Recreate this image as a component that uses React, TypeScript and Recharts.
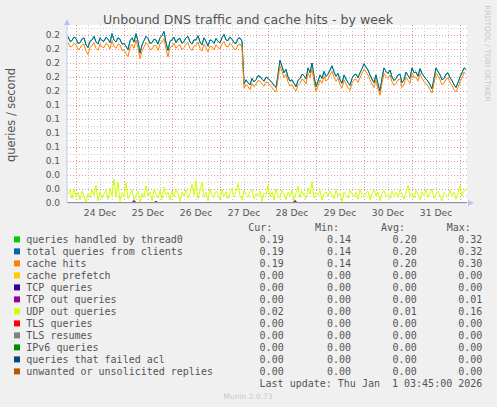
import React from 'react';
import { LineChart, Line, XAxis, YAxis, CartesianGrid, ReferenceLine } from 'recharts';

// ---- time grid (hours from 24 Dec 00:00), one sample per hour ----
const hours = [
  -4,-3,-2,-1,0,1,2,3,4,5,6,7,8,9,10,11,12,13,14,15,16,17,18,19,20,21,22,23,24,25,26,27,28,29,30,31,32,33,34,35,
  36,37,38,39,40,41,42,43,44,45,46,47,48,49,50,51,52,53,54,55,56,57,58,59,60,61,62,63,64,65,66,67,68,69,70,71,72,73,74,75,
  76,77,78,79,80,81,82,83,84,85,86,87,88,89,90,91,92,93,94,95,96,97,98,99,100,101,102,103,104,105,106,107,108,109,110,111,112,113,114,115,
  116,117,118,119,120,121,122,123,124,125,126,127,128,129,130,131,132,133,134,135,136,137,138,139,140,141,142,143,144,145,146,147,148,149,150,151,152,153,154,155,
  156,157,158,159,160,161,162,163,164,165,166,167,168,169,170,171,172,173,174,175,176,177,178,179,180,181,182,183,184,185,186,187,188,189,190,191,192,193,194,195
];

const totalQueries = [
  0.238,0.231,0.232,0.237,0.235,0.228,0.229,0.234,0.236,0.226,
  0.222,0.231,0.233,0.238,0.230,0.227,0.236,0.232,0.231,0.237,
  0.234,0.229,0.242,0.233,0.230,0.236,0.234,0.227,0.228,0.224,
  0.219,0.232,0.236,0.230,0.242,0.231,0.214,0.226,0.232,0.238,
  0.235,0.228,0.229,0.234,0.233,0.227,0.236,0.239,0.245,0.229,
  0.218,0.231,0.233,0.237,0.229,0.234,0.235,0.228,0.231,0.236,
  0.238,0.230,0.227,0.233,0.233,0.239,0.230,0.226,0.236,0.231,
  0.224,0.233,0.232,0.228,0.235,0.231,0.229,0.236,0.241,0.233,
  0.232,0.237,0.234,0.229,0.228,0.235,0.236,0.231,0.170,0.176,
  0.172,0.169,0.178,0.173,0.176,0.182,0.181,0.177,0.174,0.180,
  0.178,0.175,0.172,0.168,0.165,0.183,0.204,0.195,0.186,0.191,
  0.180,0.174,0.176,0.171,0.166,0.175,0.178,0.184,0.182,0.177,
  0.193,0.186,0.200,0.181,0.166,0.174,0.183,0.178,0.188,0.181,
  0.184,0.190,0.196,0.187,0.181,0.185,0.176,0.171,0.183,0.177,
  0.172,0.168,0.178,0.183,0.184,0.179,0.186,0.192,0.199,0.194,
  0.190,0.183,0.177,0.172,0.183,0.170,0.160,0.178,0.193,0.188,
  0.185,0.190,0.180,0.175,0.178,0.183,0.184,0.172,0.176,0.187,
  0.182,0.178,0.193,0.186,0.187,0.181,0.192,0.185,0.181,0.177,
  0.174,0.169,0.163,0.178,0.193,0.188,0.183,0.176,0.178,0.184,
  0.186,0.179,0.175,0.169,0.165,0.172,0.180,0.186,0.193,0.191
];
const thread0Queries = totalQueries;
const cacheHits = [
  0.229,0.223,0.224,0.228,0.226,0.219,0.221,0.226,0.227,0.217,
  0.212,0.222,0.225,0.229,0.221,0.218,0.227,0.223,0.222,0.228,
  0.226,0.220,0.232,0.224,0.221,0.227,0.226,0.218,0.219,0.214,
  0.209,0.223,0.227,0.221,0.233,0.222,0.206,0.217,0.223,0.229,
  0.226,0.219,0.220,0.225,0.225,0.218,0.227,0.230,0.235,0.220,
  0.209,0.222,0.224,0.228,0.221,0.225,0.226,0.219,0.222,0.227,
  0.229,0.221,0.218,0.224,0.225,0.230,0.221,0.217,0.227,0.222,
  0.216,0.224,0.223,0.219,0.226,0.222,0.220,0.227,0.231,0.224,
  0.223,0.228,0.225,0.220,0.219,0.226,0.227,0.222,0.164,0.169,
  0.166,0.162,0.171,0.166,0.170,0.175,0.174,0.170,0.167,0.173,
  0.172,0.168,0.165,0.161,0.159,0.176,0.196,0.188,0.179,0.184,
  0.173,0.167,0.169,0.164,0.160,0.168,0.171,0.177,0.175,0.170,
  0.186,0.179,0.192,0.174,0.159,0.167,0.176,0.171,0.181,0.174,
  0.177,0.183,0.188,0.180,0.174,0.178,0.169,0.164,0.176,0.170,
  0.165,0.161,0.171,0.176,0.177,0.172,0.179,0.185,0.191,0.187,
  0.183,0.176,0.170,0.165,0.176,0.163,0.154,0.171,0.185,0.181,
  0.178,0.183,0.173,0.168,0.171,0.176,0.177,0.165,0.169,0.180,
  0.175,0.171,0.186,0.179,0.180,0.174,0.185,0.178,0.174,0.170,
  0.167,0.162,0.157,0.171,0.186,0.181,0.176,0.169,0.171,0.177,
  0.179,0.172,0.168,0.162,0.159,0.165,0.173,0.179,0.187,0.184
];
const udpOutQueries = [
  0.012,0.018,0.006,0.020,0.009,0.015,0.004,0.017,0.010,0.000,
  0.014,0.008,0.019,0.011,0.025,0.003,0.016,0.007,0.013,0.018,
  0.005,0.021,0.010,0.034,0.008,0.030,0.002,0.015,0.009,0.029,
  0.006,0.013,0.019,0.004,0.011,0.017,0.000,0.014,0.008,0.025,
  0.010,0.016,0.003,0.019,0.012,0.007,0.018,0.005,0.023,0.011,
  0.015,0.004,0.017,0.009,0.020,0.013,0.002,0.016,0.010,0.019,
  0.007,0.014,0.027,0.011,0.032,0.006,0.018,0.030,0.009,0.015,
  0.003,0.020,0.012,0.008,0.017,0.013,0.005,0.019,0.010,0.016,
  0.006,0.014,0.021,0.009,0.016,0.028,0.011,0.004,0.018,0.012,
  0.008,0.015,0.019,0.006,0.013,0.010,0.017,0.002,0.014,0.011,
  0.025,0.009,0.016,0.004,0.020,0.012,0.007,0.018,0.013,0.005,
  0.016,0.010,0.019,0.003,0.014,0.024,0.008,0.017,0.011,0.006,
  0.021,0.013,0.030,0.007,0.015,0.011,0.018,0.004,0.013,0.016,
  0.009,0.017,0.012,0.006,0.019,0.010,0.014,0.002,0.016,0.011,
  0.007,0.018,0.013,0.009,0.015,0.005,0.019,0.012,0.008,0.014,
  0.017,0.004,0.013,0.019,0.010,0.016,0.003,0.014,0.018,0.009,
  0.012,0.006,0.017,0.011,0.015,0.008,0.019,0.013,0.005,0.016,
  0.025,0.010,0.014,0.007,0.018,0.012,0.004,0.016,0.011,0.019,
  0.008,0.014,0.020,0.006,0.013,0.017,0.010,0.003,0.015,0.012,
  0.009,0.018,0.011,0.016,0.005,0.014,0.025,0.010,0.017,0.019
];

const tcpOutHours = [-4.5, 28, 29, 30, 39, 40, 41, 108.5, 109.5, 110.5, 195.5];
const tcpOutValues = [0, 0, 0.003, 0, 0, 0.002, 0, 0, 0.003, 0, 0];
const zeroHours = [-4.5, 195.5];
const zeroValues = [0, 0];

// ---- axes / ticks ----
const dayLabelHours = [12, 36, 60, 84, 108, 132, 156, 180];
const dayLabels = ['24 Dec', '25 Dec', '26 Dec', '27 Dec', '28 Dec', '29 Dec', '30 Dec', '31 Dec'];
const majorXHours = [0, 24, 48, 72, 96, 120, 144, 168, 192];
const minorXHours = [6, 12, 18, 30, 36, 42, 54, 60, 66, 78, 84, 90, 102, 108, 114, 126, 132, 138, 150, 156, 162, 174, 180, 186];
const yLabelTicks = [0, 0.02, 0.04, 0.06, 0.08, 0.1, 0.12, 0.14, 0.16, 0.18, 0.2, 0.22, 0.24];
const majorYValues = [0.02, 0.04, 0.06, 0.08, 0.1, 0.12, 0.14, 0.16, 0.18, 0.2, 0.22, 0.24];
const minorYValues = [0.01, 0.03, 0.05, 0.07, 0.09, 0.11, 0.13, 0.15, 0.17, 0.19, 0.21, 0.23, 0.25];

// ---- legend ----
const legendLabels = [
  'queries handled by thread0', 'total queries from clients', 'cache hits', 'cache prefetch',
  'TCP queries', 'TCP out queries', 'UDP out queries', 'TLS queries', 'TLS resumes',
  'IPv6 queries', 'queries that failed acl', 'unwanted or unsolicited replies'
];
const legendColors = ['#00cc00', '#0066b3', '#ff8000', '#ffcc00', '#330099', '#990099', '#ccff00', '#ff0000', '#808080', '#008f00', '#00487d', '#b35a00'];
const curValues = ['0.19', '0.19', '0.19', '0.00', '0.00', '0.00', '0.02', '0.00', '0.00', '0.00', '0.00', '0.00'];
const minValues = ['0.14', '0.14', '0.14', '0.00', '0.00', '0.00', '0.00', '0.00', '0.00', '0.00', '0.00', '0.00'];
const avgValues = ['0.20', '0.20', '0.20', '0.00', '0.00', '0.00', '0.01', '0.00', '0.00', '0.00', '0.00', '0.00'];
const maxValues = ['0.32', '0.32', '0.30', '0.00', '0.00', '0.01', '0.16', '0.00', '0.00', '0.00', '0.00', '0.00'];

const rows = hours.map((t, i) => ({ t, thread0: thread0Queries[i], total: totalQueries[i], cache: cacheHits[i], udp: udpOutQueries[i] }));
const rowsTcpOut = tcpOutHours.map((t, i) => ({ t, v: tcpOutValues[i] }));
const rowsZero = zeroHours.map((t, i) => ({ t, v: zeroValues[i] }));

const SANS = 'DejaVu Sans, sans-serif';
const MONO = 'DejaVu Sans Mono, monospace';
const TXT = '#555555';
const RED_GRID = '#e29494';
const GRAY_GRID = '#c8c8c8';
const AXIS = '#c4ccf2';

export default function App() {
  const zeroLine = (key: string, color: string) => (
    <Line key={key} data={rowsZero} dataKey="v" type="linear" stroke={color} strokeWidth={1} dot={false} isAnimationActive={false} />
  );
  return (
    <div style={{ position: 'absolute', left: 0, top: 0, width: 497, height: 407, background: '#f0f0f0', overflow: 'hidden' }}>
      <LineChart width={497} height={407} data={rows} margin={{ top: 25, right: 30, bottom: 174, left: 7 }}>
        <CartesianGrid fill="#ffffff" stroke="none" horizontal={false} vertical={false} />
        {minorXHours.map((h) => (
          <ReferenceLine key={'mx' + h} x={h} stroke={GRAY_GRID} strokeDasharray="1 2" shapeRendering="crispEdges" />
        ))}
        {minorYValues.map((v) => (
          <ReferenceLine key={'my' + v} y={v} stroke={GRAY_GRID} strokeDasharray="1 2" shapeRendering="crispEdges" />
        ))}
        {majorXHours.map((h) => (
          <ReferenceLine key={'Mx' + h} x={h} stroke={RED_GRID} strokeDasharray="1 2" shapeRendering="crispEdges" />
        ))}
        {majorYValues.map((v) => (
          <ReferenceLine key={'My' + v} y={v} stroke={RED_GRID} strokeDasharray="1 2" shapeRendering="crispEdges" />
        ))}
        <XAxis
          type="number"
          dataKey="t"
          domain={[-4.5, 195.5]}
          allowDataOverflow
          ticks={dayLabelHours}
          interval={0}
          tickFormatter={(v: number) => dayLabels[dayLabelHours.indexOf(v)] ?? ''}
          height={30}
          tickLine={false}
          tickSize={0}
          tickMargin={6}
          axisLine={{ stroke: AXIS }}
          tick={{ fill: TXT, fontSize: 9.2, fontFamily: SANS }}
        />
        <YAxis
          type="number"
          domain={[0, 0.2543]}
          allowDataOverflow
          ticks={yLabelTicks}
          interval={0}
          tickFormatter={(v: number) => v.toFixed(1)}
          width={60}
          tickLine={false}
          tickSize={0}
          tickMargin={7}
          axisLine={{ stroke: AXIS }}
          tick={{ fill: TXT, fontSize: 9, fontFamily: SANS }}
        />
        <Line dataKey="thread0" type="linear" stroke="#00cc00" strokeWidth={1} dot={false} isAnimationActive={false} />
        <Line dataKey="total" type="linear" stroke="#0066b3" strokeWidth={1} dot={false} isAnimationActive={false} />
        <Line dataKey="cache" type="linear" stroke="#ff8000" strokeWidth={1} dot={false} isAnimationActive={false} />
        {zeroLine('prefetch', '#ffcc00')}
        {zeroLine('tcp', '#330099')}
        <Line data={rowsTcpOut} dataKey="v" type="linear" stroke="#990099" strokeWidth={1.5} dot={false} isAnimationActive={false} />
        <Line dataKey="udp" type="linear" stroke="#ccff00" strokeWidth={1} dot={false} isAnimationActive={false} />
        {zeroLine('tls', '#ff0000')}
        {zeroLine('tlsres', '#808080')}
        {zeroLine('ipv6', '#008f00')}
        {zeroLine('acl', '#00487d')}
        {zeroLine('unwanted', '#b35a00')}
      </LineChart>
      <svg width={497} height={407} style={{ position: 'absolute', left: 0, top: 0, pointerEvents: 'none' }}>
        <text x={248} y={24} textAnchor="middle" fontFamily={SANS} fontSize={12.6} fill={TXT}>
          Unbound DNS traffic and cache hits - by week
        </text>
        <text x={15} y={115} transform="rotate(-90 15 115)" textAnchor="middle" fontFamily={SANS} fontSize={11.4} fill={TXT}>
          queries / second
        </text>
        <text x={485} y={53.5} transform="rotate(90 485 53.5)" textAnchor="middle" fontFamily={SANS} fontSize={7.5} fill="#c8c8c8">
          RRDTOOL / TOBI OETIKER
        </text>
        <polygon points="64,25 70,25 67,19" fill="#b8c2f4" />
        <polygon points="468,200 468,206 474,203" fill="#b8c2f4" />
        <g fontFamily={MONO} fontSize={10} fill={TXT}>
          <text x={248.3} y={231}>Cur:</text>
          <text x={315} y={231}>Min:</text>
          <text x={381} y={231}>Avg:</text>
          <text x={446.7} y={231}>Max:</text>
          {legendLabels.map((label, i) => {
            const by = 242.7 + i * 12;
            return (
              <g key={label}>
                <rect x={14} y={by - 6.3} width={6} height={6} fill={legendColors[i]} />
                <text x={26.3} y={by}>{label}</text>
                <text x={283.7} y={by} textAnchor="end">{curValues[i]}</text>
                <text x={351} y={by} textAnchor="end">{minValues[i]}</text>
                <text x={416.7} y={by} textAnchor="end">{avgValues[i]}</text>
                <text x={482.3} y={by} textAnchor="end">{maxValues[i]}</text>
              </g>
            );
          })}
          <text x={482.3} y={386.7} textAnchor="end" style={{ whiteSpace: 'pre' }} xmlSpace="preserve">
            {'Last update: Thu Jan  1 03:45:00 2026'}
          </text>
        </g>
        <text x={248} y={399} textAnchor="middle" fontFamily={SANS} fontSize={7.5} fill="#c8c8c8">
          Munin 2.0.73
        </text>
      </svg>
    </div>
  );
}
